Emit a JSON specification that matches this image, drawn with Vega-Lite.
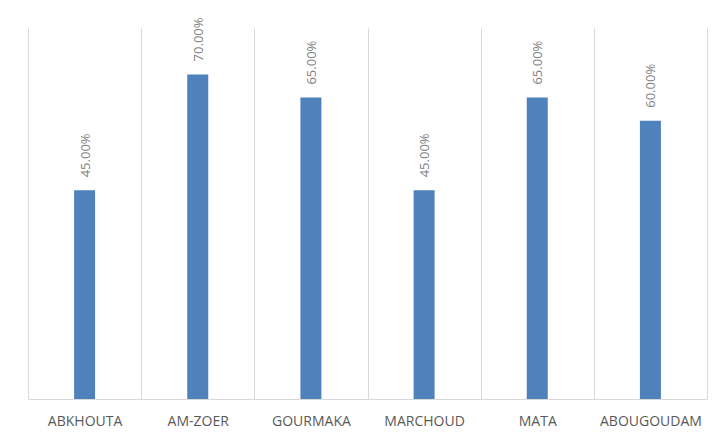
{
  "$schema": "https://vega.github.io/schema/vega-lite/v6.json",
  "width": 679,
  "height": 371,
  "autosize": {"type": "none"},
  "padding": {"left": 28, "top": 28, "right": 20, "bottom": 41},
  "background": "white",
  "config": {"view": {"stroke": null}},
  "data": {
    "values": [
      {"site": "ABKHOUTA", "value": 0.45},
      {"site": "AM-ZOER", "value": 0.70},
      {"site": "GOURMAKA", "value": 0.65},
      {"site": "MARCHOUD", "value": 0.45},
      {"site": "MATA", "value": 0.65},
      {"site": "ABOUGOUDAM", "value": 0.60}
    ]
  },
  "encoding": {
    "x": {
      "field": "site",
      "type": "nominal",
      "sort": null,
      "scale": {"paddingInner": 0, "paddingOuter": 0},
      "axis": {
        "title": null,
        "labelAngle": 0,
        "tickBand": "extent",
        "grid": true,
        "gridColor": "#d9d9d9",
        "gridWidth": 1,
        "domainColor": "#d9d9d9",
        "domainWidth": 1,
        "ticks": false,
        "labelPadding": 15,
        "labelFont": "Open Sans",
        "labelFontSize": 14,
        "labelColor": "#595959"
      }
    },
    "y": {
      "field": "value",
      "type": "quantitative",
      "scale": {"domain": [0, 0.8]},
      "axis": null
    }
  },
  "layer": [
    {"mark": {"type": "bar", "color": "#4f81bd", "size": 21}},
    {
      "mark": {
        "type": "text",
        "angle": 270,
        "align": "left",
        "baseline": "middle",
        "dx": 13,
        "dy": 1,
        "font": "Open Sans",
        "fontSize": 13,
        "color": "#7f7f7f"
      },
      "encoding": {"text": {"field": "value", "type": "quantitative", "format": ".2%"}}
    }
  ]
}
